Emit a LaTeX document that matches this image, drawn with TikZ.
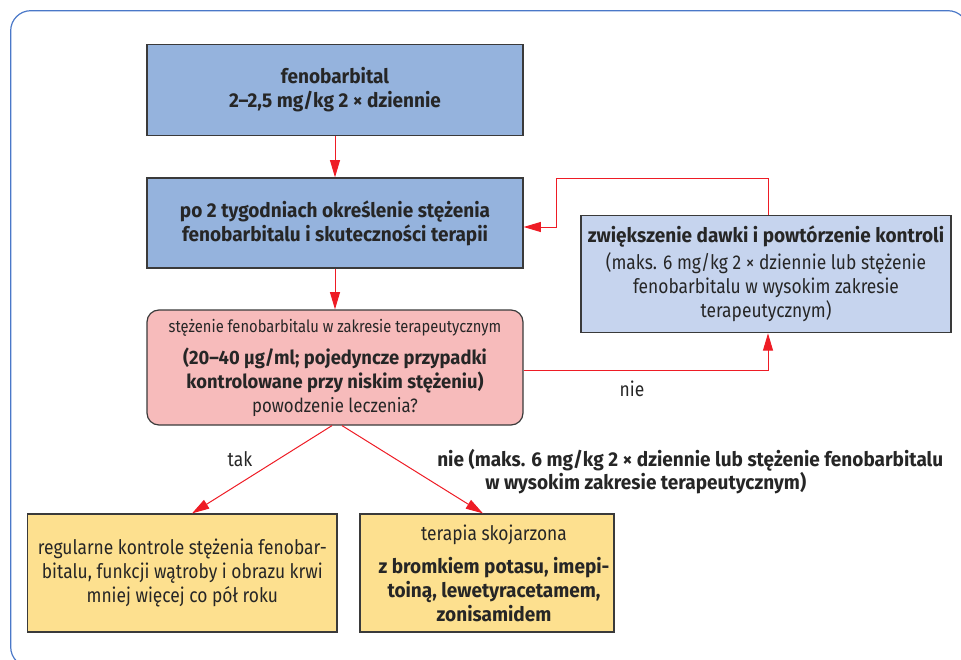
\documentclass[tikz,border=0pt]{standalone}
\usepackage{fontspec}
\setmainfont{Fira Sans}[FakeStretch=0.87, BoldFeatures={FakeStretch=0.95}]
\usetikzlibrary{arrows.meta,calc}
\definecolor{frameblue}{HTML}{4A78C8}
\definecolor{boxblue}{HTML}{95B3DD}
\definecolor{lightblue}{HTML}{C6D4EE}
\definecolor{pinkbox}{HTML}{F7BBBB}
\definecolor{yellowbox}{HTML}{FDE08F}
\definecolor{arrred}{HTML}{EE1C25}
\definecolor{txt}{HTML}{262626}
\definecolor{edgegray}{HTML}{3A3A3A}
\newcommand{\rsh}{\hspace*{10.5pt}}
\begin{document}
\begin{tikzpicture}[x=0.75pt,y=-0.75pt,
  box/.style={draw=edgegray, line width=0.9pt, inner sep=0pt, align=center, text=txt, font=\fontsize{15}{18}\selectfont},
  arr/.style={draw=arrred, line width=0.75pt, -{Triangle[length=13pt,width=7.5pt]}},
  lbl/.style={text=txt, font=\fontsize{15}{18}\selectfont, inner sep=0pt}
]
\useasboundingbox (0,0) rectangle (961,660);
\draw[frameblue, line width=0.9pt, rounded corners=15pt] (10.7,10.7) rectangle (968,667);

\node[box, fill=boxblue, minimum width=282pt, minimum height=68.25pt] (b1) at (335,90)
  {\textbf{fenobarbital}\\ \textbf{2–2,5 mg/kg 2 × dziennie}};
\node[box, fill=boxblue, minimum width=282pt, minimum height=67.5pt] (b2) at (335,223)
  {\textbf{po 2 tygodniach określenie stężenia}\\ \textbf{fenobarbitalu i skuteczności terapii}};
\node[box, fill=lightblue, minimum width=277.5pt, minimum height=87.75pt] (b3) at (766,274.2)
  {\textbf{zwiększenie dawki i powtórzenie kontroli}\\[2.25pt] (maks. 6 mg/kg 2 × dziennie lub stężenie\\ fenobarbitalu w wysokim zakresie\\ terapeutycznym)};
\node[box, fill=pinkbox, rounded corners=9pt, minimum width=282pt, minimum height=86.25pt, font=\fontsize{14.5}{18}\selectfont] (red) at (335,367.5)
  {{\fontsize{12.7}{13}\selectfont stężenie fenobarbitalu w zakresie terapeutycznym}\\[6pt] \textbf{(20–40 µg/ml; pojedyncze przypadki}\\ \textbf{kontrolowane przy niskim stężeniu)}\\ powodzenie leczenia?};
\node[box, fill=yellowbox, minimum width=232pt, minimum height=88.5pt] (y1) at (182.3,573)
  {regularne kontrole stężenia fenobar-\\ bitalu, funkcji wątroby i obrazu krwi\\ mniej więcej co pół roku};
\node[box, fill=yellowbox, minimum width=190.5pt, minimum height=88.5pt] (y2) at (487,573)
  {\rsh terapia skojarzona\\[6.75pt] \rsh\textbf{z bromkiem potasu, imepi-}\\ \rsh\textbf{toiną, lewetyracetamem,}\\ \rsh\textbf{zonisamidem}};

\node[lbl, anchor=base] (nie1) at (632,396) {nie};
\node[lbl, anchor=base] (tak) at (240,466) {tak};
\node[lbl, anchor=base west] (nieA) at (437,466) {\textbf{nie (maks. 6 mg/kg 2 × dziennie lub stężenie fenobarbitalu}};
\node[lbl, anchor=base west] (nieB) at (485,489) {\textbf{w wysokim zakresie terapeutycznym)}};

\coordinate (c1) at (768,178);
\coordinate (c2) at (556,178);
\coordinate (c3) at (556,227);
\coordinate (c4) at (768,370);

\draw[arr] (b1.south) -- (b2.north);
\draw[arr] (b2.south) -- (b2.south |- red.north);
\draw[arr] (c1 |- b3.north) -- (c1) -- (c2) -- (c3) -- (c3 -| b2.east);
\draw[arr] (c4 -| red.east) -- (c4) -- (c4 |- b3.south);
\draw[arr] ($(red.south)+(-3,0)$) -- ($(y1.north)+(9.7,0)$);
\draw[arr] ($(red.south)+(7,0)$) -- ($(y2.north)+(-4,0)$);
\end{tikzpicture}
\end{document}
